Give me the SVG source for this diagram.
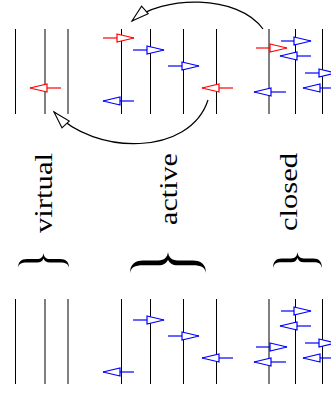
<svg xmlns="http://www.w3.org/2000/svg" width="331" height="394" viewBox="0 0 331 394">
<style>
.ln{stroke:#000;stroke-width:1;fill:none}
.r{stroke:#f00;stroke-width:1.2;fill:none;marker-end:url(#hr)}
.b{stroke:#00f;stroke-width:1.2;fill:none;marker-end:url(#hb)}
.k{stroke:#000;stroke-width:1.2;fill:none;marker-end:url(#hk)}
.lbl{font-family:"Liberation Serif","Times New Roman",serif;font-size:25px;fill:#000}
.br{fill:#000}
</style>
<defs>
<marker id="hr" markerUnits="userSpaceOnUse" markerWidth="20" markerHeight="12" refX="17" refY="5" orient="auto" overflow="visible"><path d="M0,1 L17,5 L0,9 Z" fill="#fff" stroke="#f00" stroke-width="1.2"/></marker>
<marker id="hb" markerUnits="userSpaceOnUse" markerWidth="20" markerHeight="12" refX="17" refY="5" orient="auto" overflow="visible"><path d="M0,1 L17,5 L0,9 Z" fill="#fff" stroke="#00f" stroke-width="1.2"/></marker>
<marker id="hk" markerUnits="userSpaceOnUse" markerWidth="20" markerHeight="12" refX="17" refY="5" orient="auto" overflow="visible"><path d="M0,0 L17,5 L0,10 Z" fill="#fff" stroke="#000" stroke-width="1.1"/></marker>
<path id="brace" d="M-25.5,15 C-25.5,9 -22.5,6 -16.5,6 L-6.5,6 C-2.5,6 -0.5,4 0,0 C0.5,4 2.5,6 6.5,6 L16.5,6 C22.5,6 25.5,9 25.5,15 C24.8,11 22.5,9.5 16.5,9.5 L6.5,9.5 C3,9.5 1,8 0,5.5 C-1,8 -3,9.5 -6.5,9.5 L-16.5,9.5 C-22.5,9.5 -24.8,11 -25.5,15 Z"/>
</defs>

<g id="virtual-top">
<line class="ln" x1="15.5" y1="29" x2="15.5" y2="114"/>
<line class="ln" x1="45" y1="29" x2="45" y2="114"/>
<line class="ln" x1="68" y1="29" x2="68" y2="114"/>
<path class="r" d="M61,88 H30"/>
</g>
<g id="active-top">
<line class="ln" x1="121.5" y1="29" x2="121.5" y2="114"/>
<line class="ln" x1="150.5" y1="29" x2="150.5" y2="114"/>
<line class="ln" x1="183.5" y1="29" x2="183.5" y2="114"/>
<line class="ln" x1="216.5" y1="29" x2="216.5" y2="114"/>
<path class="r" d="M103,38 H134"/>
<path class="b" d="M133,50 H164"/>
<path class="b" d="M168,66 H199"/>
<path class="r" d="M233,88 H202"/>
<path class="b" d="M134,101 H103"/>
</g>
<g id="closed-top">
<line class="ln" x1="269" y1="29" x2="269" y2="114"/>
<line class="ln" x1="295.5" y1="29" x2="295.5" y2="114"/>
<line class="ln" x1="322.5" y1="29" x2="322.5" y2="114"/>
<path class="b" d="M281,41 H311"/>
<path class="r" d="M256,48 H287"/>
<path class="b" d="M311,56 H280"/>
<path class="b" d="M305,73 H336"/>
<path class="b" d="M334,88 H303"/>
<path class="b" d="M286,92 H254"/>
</g>

<g id="connectors">
<path class="k" d="M263,29 C238,-6 162,-5 132,21"/>
<path class="k" d="M208,100 C190,156 95,156 54,112"/>
</g>

<g id="label-virtual"><text class="lbl" transform="translate(51.5,233) rotate(-90)" x="0" y="0" textLength="80" lengthAdjust="spacingAndGlyphs">virtual</text></g>
<g id="label-active"><text class="lbl" transform="translate(176.5,225) rotate(-90)" x="0" y="0" textLength="72" lengthAdjust="spacingAndGlyphs">active</text></g>
<g id="label-closed"><text class="lbl" transform="translate(296.5,231) rotate(-90)" x="0" y="0" textLength="78" lengthAdjust="spacingAndGlyphs">closed</text></g>

<g id="brace-virtual"><use href="#brace" class="br" transform="translate(43.5,253)"/></g>
<g id="brace-active"><use href="#brace" class="br" transform="translate(168,252) scale(1.49,1.4)"/></g>
<g id="brace-closed"><use href="#brace" class="br" transform="translate(297.5,252) scale(0.96,1.07)"/></g>

<g id="virtual-bottom">
<line class="ln" x1="15.5" y1="299" x2="15.5" y2="384"/>
<line class="ln" x1="45" y1="299" x2="45" y2="384"/>
<line class="ln" x1="68" y1="299" x2="68" y2="384"/>
</g>
<g id="active-bottom">
<line class="ln" x1="121.5" y1="299" x2="121.5" y2="384"/>
<line class="ln" x1="150.5" y1="299" x2="150.5" y2="384"/>
<line class="ln" x1="183.5" y1="299" x2="183.5" y2="384"/>
<line class="ln" x1="216.5" y1="299" x2="216.5" y2="384"/>
<path class="b" d="M133,320 H164"/>
<path class="b" d="M168,336 H199"/>
<path class="b" d="M233,358 H202"/>
<path class="b" d="M134,372 H103"/>
</g>
<g id="closed-bottom">
<line class="ln" x1="269" y1="299" x2="269" y2="384"/>
<line class="ln" x1="295.5" y1="299" x2="295.5" y2="384"/>
<line class="ln" x1="322.5" y1="299" x2="322.5" y2="384"/>
<path class="b" d="M281,311 H311"/>
<path class="b" d="M311,326 H280"/>
<path class="b" d="M305,343 H336"/>
<path class="b" d="M256,347 H287"/>
<path class="b" d="M334,358 H303"/>
<path class="b" d="M286,362 H254"/>
</g>
</svg>
